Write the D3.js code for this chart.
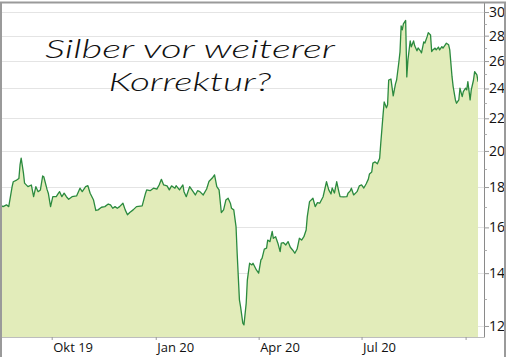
<!DOCTYPE html>
<html>
<head>
<meta charset="utf-8">
<script src="https://cdn.jsdelivr.net/npm/d3@7"></script>
<style>
  html, body { margin: 0; padding: 0; background: #fff; }
  svg { display: block; }
</style>
</head>
<body>
<svg id="chart" width="506" height="357"></svg>
<script>
// ---- data ----
const dates = [
  "2019-08-16","2019-08-19","2019-08-22","2019-08-24","2019-08-27","2019-08-28","2019-08-31","2019-09-02","2019-09-03","2019-09-04",
  "2019-09-06","2019-09-07","2019-09-10","2019-09-13","2019-09-15","2019-09-17","2019-09-19","2019-09-21","2019-09-23","2019-09-24",
  "2019-09-27","2019-09-28","2019-09-30","2019-10-02","2019-10-05","2019-10-07","2019-10-08","2019-10-10","2019-10-12","2019-10-14",
  "2019-10-16","2019-10-19","2019-10-23","2019-10-26","2019-10-28","2019-10-31","2019-11-02","2019-11-04","2019-11-07","2019-11-09",
  "2019-11-11","2019-11-14","2019-11-17","2019-11-20","2019-11-22","2019-11-24","2019-11-26","2019-11-28","2019-11-30","2019-12-03",
  "2019-12-05","2019-12-07","2019-12-09","2019-12-12","2019-12-15","2019-12-20","2019-12-23","2019-12-24","2019-12-27","2019-12-30",
  "2020-01-02","2020-01-04","2020-01-06","2020-01-08","2020-01-11","2020-01-13","2020-01-15","2020-01-18","2020-01-19","2020-01-22",
  "2020-01-25","2020-01-26","2020-01-28","2020-01-31","2020-02-02","2020-02-05","2020-02-07","2020-02-09","2020-02-12","2020-02-15",
  "2020-02-17","2020-02-20","2020-02-22","2020-02-24","2020-02-26","2020-02-28","2020-03-01","2020-03-03","2020-03-05","2020-03-07",
  "2020-03-08","2020-03-10","2020-03-12","2020-03-13","2020-03-15","2020-03-16","2020-03-18","2020-03-19","2020-03-21","2020-03-22",
  "2020-03-24","2020-03-26","2020-03-27","2020-03-30","2020-04-01","2020-04-03","2020-04-04","2020-04-06","2020-04-08","2020-04-09",
  "2020-04-11","2020-04-13","2020-04-14","2020-04-16","2020-04-18","2020-04-20","2020-04-21","2020-04-23","2020-04-25","2020-04-27",
  "2020-04-29","2020-05-01","2020-05-03","2020-05-05","2020-05-07","2020-05-09","2020-05-11","2020-05-13","2020-05-14","2020-05-16",
  "2020-05-19","2020-05-21","2020-05-23","2020-05-25","2020-05-28","2020-05-31","2020-06-02","2020-06-04","2020-06-05","2020-06-07",
  "2020-06-09","2020-06-11","2020-06-12","2020-06-15","2020-06-18","2020-06-19","2020-06-21","2020-06-22","2020-06-24","2020-06-27",
  "2020-06-29","2020-07-01","2020-07-03","2020-07-05","2020-07-07","2020-07-08","2020-07-10","2020-07-11","2020-07-13","2020-07-15",
  "2020-07-17","2020-07-18","2020-07-20","2020-07-21","2020-07-23","2020-07-24","2020-07-25","2020-07-27","2020-07-29","2020-07-31",
  "2020-08-01","2020-08-03","2020-08-04","2020-08-05","2020-08-06","2020-08-07","2020-08-09","2020-08-10","2020-08-11","2020-08-13",
  "2020-08-14","2020-08-16","2020-08-17","2020-08-19","2020-08-20","2020-08-22","2020-08-23","2020-08-25","2020-08-26","2020-08-28",
  "2020-08-29","2020-08-31","2020-09-01","2020-09-02","2020-09-04","2020-09-05","2020-09-07","2020-09-08","2020-09-10","2020-09-11",
  "2020-09-13","2020-09-14","2020-09-16","2020-09-17","2020-09-19","2020-09-20","2020-09-22","2020-09-23","2020-09-25","2020-09-26",
  "2020-09-28","2020-09-29","2020-10-01","2020-10-02","2020-10-03","2020-10-05","2020-10-06","2020-10-08","2020-10-09","2020-10-11",
  "2020-10-12"
];
const prices = [
  17.09,17.00,17.09,17.00,18.02,18.28,18.37,18.46,19.20,19.58,
  18.76,18.21,18.02,18.11,17.50,18.02,17.76,17.85,18.59,18.55,
  17.85,17.68,17.00,17.50,17.50,17.68,17.76,17.50,17.68,17.50,
  17.37,17.50,17.54,17.94,17.76,18.02,18.07,17.68,17.33,16.81,
  16.84,16.97,17.00,17.13,17.09,16.92,17.00,16.92,17.00,17.17,
  16.84,16.60,16.71,16.84,17.00,17.04,17.68,17.85,17.81,17.94,
  17.89,18.11,18.41,18.11,18.06,17.85,18.06,17.94,18.07,17.85,
  18.11,17.76,17.50,18.02,17.85,17.59,17.81,17.76,17.59,17.90,
  18.29,18.48,18.65,18.02,17.85,16.71,16.84,17.33,17.42,17.17,
  16.92,16.84,16.04,14.84,12.95,12.70,12.10,12.04,12.83,13.72,
  14.41,14.34,14.41,14.13,14.00,14.55,14.62,15.02,15.06,15.42,
  15.35,15.81,15.50,15.57,15.28,14.91,15.28,15.30,15.20,15.35,
  15.10,14.98,14.84,15.02,15.50,15.42,15.57,15.88,16.51,17.25,
  17.42,17.00,17.20,17.17,17.50,18.28,17.85,17.64,17.95,17.69,
  18.28,17.74,17.50,17.49,17.50,17.68,17.80,17.94,17.59,17.76,
  18.06,18.11,17.95,18.16,18.42,18.70,18.81,19.30,19.37,19.26,
  19.58,20.47,22.22,23.07,22.68,22.88,24.60,24.67,23.49,24.32,
  24.60,25.93,26.71,28.81,28.48,28.98,29.27,24.82,26.08,27.57,
  27.10,27.57,27.18,26.79,27.02,26.79,26.63,27.49,27.41,27.92,
  28.25,28.06,26.73,26.86,27.00,26.86,27.08,26.86,27.12,27.00,
  27.26,27.39,27.26,26.86,24.84,24.13,23.21,22.99,23.21,24.02,
  23.44,23.78,24.02,23.90,24.48,23.21,23.90,24.60,25.21,24.97,
  24.48
];
const yMajorTicks = [12, 14, 16, 18, 20, 22, 24, 26, 28, 30];
const yMinorTicks = [13, 15, 17, 19, 21, 23, 25, 27, 29];
const xTickDates = ["2019-10-01", "2020-01-01", "2020-04-01", "2020-07-01", "2020-10-01"];
const xTickLabels = ["Okt 19", "Jan 20", "Apr 20", "Jul 20", ""];
const titleLines = ["Silber vor weiterer", "Korrektur?"];

// ---- drawing ----
const parse = d3.timeParse("%Y-%m-%d");
const data = dates.map((d, i) => ({ date: parse(d), value: prices[i] }));

const svg = d3.select("#chart");
const plotLeft = 1, plotRight = 484, plotTop = 3, plotBottom = 337;

const x = d3.scaleTime()
  .domain([parse("2019-10-01"), parse("2020-10-01")])
  .range([51.7, 465.6]);
const y = d3.scaleLog()
  .domain([11.62, 30.8])
  .range([plotBottom, plotTop]);

// gridlines
svg.append("g").selectAll("line")
  .data(yMajorTicks).join("line")
  .attr("x1", plotLeft).attr("x2", plotRight)
  .attr("y1", d => Math.round(y(d)) + 0.5).attr("y2", d => Math.round(y(d)) + 0.5)
  .attr("stroke", "#e4e4e4").attr("stroke-width", 1);

svg.append("defs").append("clipPath").attr("id", "clip")
  .append("rect").attr("x", plotLeft).attr("y", plotTop)
  .attr("width", plotRight - plotLeft - 6).attr("height", plotBottom - plotTop);

const area = d3.area()
  .x(d => x(d.date)).y0(plotBottom).y1(d => y(d.value));
const line = d3.line()
  .x(d => x(d.date)).y(d => y(d.value));

const g = svg.append("g").attr("clip-path", "url(#clip)");
g.append("path").datum(data).attr("d", area).attr("fill", "#e2ecba");
g.append("path").datum(data).attr("d", line)
  .attr("fill", "none").attr("stroke", "#2b8a3e").attr("stroke-width", 1.3)
  .attr("stroke-linejoin", "round");

// bottom axis
const xAxis = d3.axisBottom(x)
  .tickValues(xTickDates.map(parse))
  .tickFormat((d, i) => xTickLabels[i])
  .tickSize(3).tickSizeOuter(0);
const gx = svg.append("g").attr("transform", `translate(0,${plotBottom})`).call(xAxis);
gx.select(".domain").attr("d", `M${plotLeft},0.5H${plotRight}`).attr("stroke", "#bdbdbd");
gx.selectAll(".tick line").attr("stroke", "#9a9a9a");
gx.selectAll(".tick text")
  .attr("text-anchor", "start").attr("dx", 1).attr("y", 6)
  .attr("font-family", "'Open Sans', 'Noto Sans', sans-serif").attr("font-size", 13)
  .attr("fill", "#111");

// right axis
const yAxis = d3.axisRight(y)
  .tickValues(yMajorTicks).tickFormat(d3.format("d"))
  .tickSize(5).tickSizeOuter(0);
const gy = svg.append("g").attr("transform", `translate(${plotRight},0)`).call(yAxis);
gy.select(".domain").attr("d", `M0.5,${plotTop}V${plotBottom + 0.5}`).attr("stroke", "#8a8a8a");
gy.selectAll(".tick line").attr("stroke", "#9a9a9a");
gy.selectAll(".tick text")
  .attr("x", 5)
  .attr("font-family", "'Open Sans', 'Noto Sans', sans-serif").attr("font-size", 14)
  .attr("fill", "#111");
gy.append("g").selectAll("line").data(yMinorTicks).join("line")
  .attr("x1", 0.5).attr("x2", 3)
  .attr("y1", d => Math.round(y(d)) + 0.5).attr("y2", d => Math.round(y(d)) + 0.5)
  .attr("stroke", "#b0b0b0");

// title (handwritten look approximated with a light italic face)
const title = svg.append("g");
title.append("text").attr("x", 190).attr("y", 58)
  .attr("text-anchor", "middle")
  .attr("font-family", "Lato, 'Open Sans', sans-serif").attr("font-size", 26)
  .attr("font-style", "italic").attr("font-weight", 300)
  .attr("textLength", 290).attr("lengthAdjust", "spacingAndGlyphs")
  .attr("fill", "#111").text(titleLines[0]);
title.append("text").attr("x", 190).attr("y", 91)
  .attr("text-anchor", "middle")
  .attr("font-family", "Lato, 'Open Sans', sans-serif").attr("font-size", 26)
  .attr("font-style", "italic").attr("font-weight", 300)
  .attr("textLength", 163).attr("lengthAdjust", "spacingAndGlyphs")
  .attr("fill", "#111").text(titleLines[1]);

// frame
svg.append("path")
  .attr("d", "M1,357V2.5H505V357")
  .attr("fill", "none").attr("stroke", "#9a9a9a").attr("stroke-width", 2);
</script>
</body>
</html>
